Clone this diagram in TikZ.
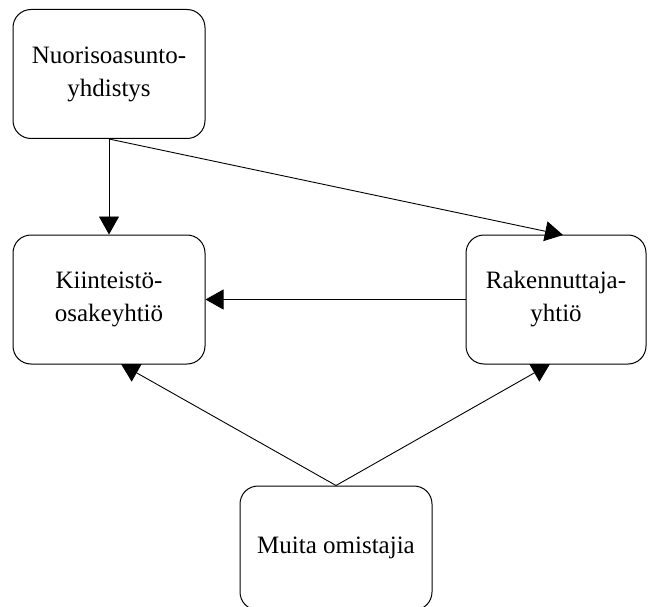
\documentclass[tikz,border=0pt]{standalone}
\usepackage{fontspec}
\setmainfont{Liberation Serif}
\usetikzlibrary{arrows.meta}

\begin{document}
\begin{tikzpicture}[x=1pt, y=-1pt,
		laatikko/.style={draw, rounded corners=18pt, line width=1pt, align=center, inner sep=0pt,
			font=\fontsize{25}{33}\selectfont},
		nuoli/.style={line width=0.9pt, -{Triangle[length=18pt, width=20pt]}}]
				\useasboundingbox (0,0) rectangle (648,607);
				
				\node[laatikko, minimum width=192pt, minimum height=129pt] (nuoriso) at (109,74) {Nuorisoasunto-\\yhdistys};
				\node[laatikko, minimum width=192pt, minimum height=129pt] (kiinteisto) at (109,299.5) {Kiinteistö-\\osakeyhtiö};
				\node[laatikko, minimum width=180pt, minimum height=129pt] (rakennuttaja) at (556,299.5) {Rakennuttaja-\\yhtiö};
				\node[laatikko, minimum width=192pt, minimum height=124pt] (muut) at (336,548) {Muita omistajia};
				
				\coordinate (rak-ylä) at (563,235);
				\coordinate (kii-ala) at (121,364);
				\coordinate (rak-ala) at (550,364);
				
				\draw[nuoli] (nuoriso.south) -- (kiinteisto.north);
				\draw[nuoli] (nuoriso.south) -- (rak-ylä);
				\draw[nuoli] (rakennuttaja.west) -- (kiinteisto.east);
				\draw[nuoli] (muut.north) -- (kii-ala);
				\draw[nuoli] (muut.north) -- (rak-ala);
			\end{tikzpicture}
\end{document}
